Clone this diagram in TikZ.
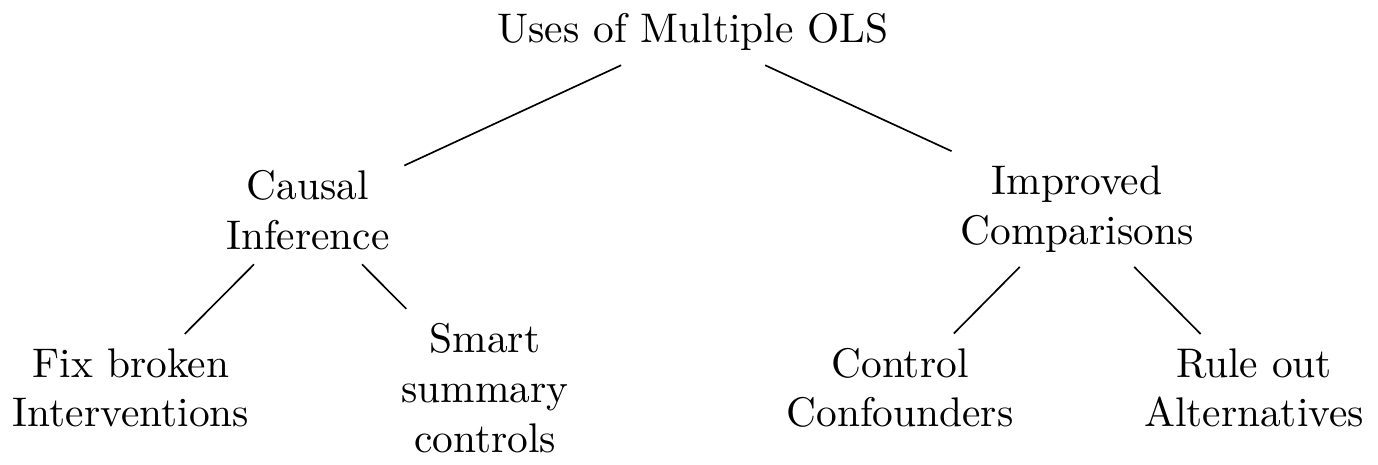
\documentclass[tikz,border=0pt]{standalone}
\begin{document}
\begin{tikzpicture}[x=0.24155pt,y=-0.24155pt,
  lbl/.style={align=center},
  edge/.style={draw=black, line width=0.4pt}]
\useasboundingbox (0,0) rectangle (1378,464);
\node[lbl] (root) at (693,32) {Uses of Multiple OLS};
\node[lbl] (causal) at (308,210) {Causal\\Inference};
\node[lbl] (improved) at (1077,209) {Improved\\Comparisons};
\node[lbl] (fix) at (131,388) {Fix broken\\Interventions};
\node[lbl] (smart) at (485,388) {Smart\\summary\\controls};
\node[lbl] (control) at (900,388) {Control\\Confounders};
\node[lbl] (rule) at (1254,388) {Rule out\\Alternatives};
\draw[edge] (root) -- (causal);
\draw[edge] (root) -- (improved);
\draw[edge] (causal) -- (fix);
\draw[edge] (causal) -- (smart);
\draw[edge] (improved) -- (control);
\draw[edge] (improved) -- (rule);
\end{tikzpicture}
\end{document}
